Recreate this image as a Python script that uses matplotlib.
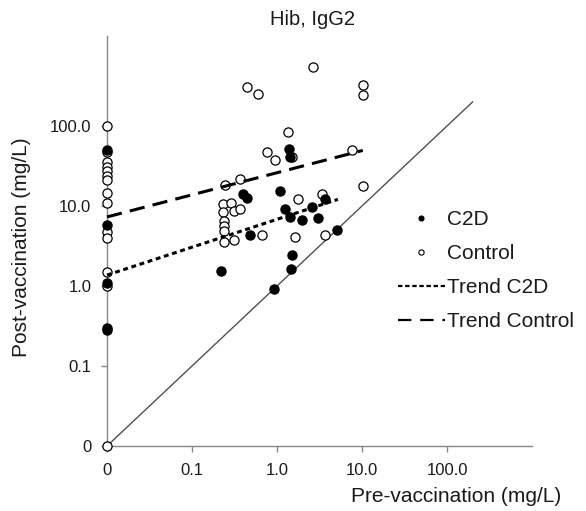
import matplotlib
matplotlib.use("Agg")
import matplotlib.pyplot as plt
from matplotlib.lines import Line2D
import numpy as np

plt.rcParams['font.family'] = ['Liberation Sans', 'DejaVu Sans']

# ---- data (pre-vaccination, post-vaccination), mg/L; 0 is drawn at the axis floor ----
c2d_pre = [0, 0, 0, 0, 0, 0.22, 0.40, 0.44, 0.48, 0.92, 1.08, 1.24, 1.39, 1.42,
           1.42, 1.48, 1.52, 1.95, 2.56, 3.06, 3.7, 5.1]
c2d_post = [50, 5.8, 1.1, 0.30, 0.28, 1.55, 14.1, 12.7, 4.3, 0.92, 15.2, 9.1, 51, 41.5,
            7.2, 1.62, 2.45, 6.7, 9.6, 7.0, 12.4, 5.0]

ctrl_pre = [0, 0, 0, 0, 0, 0, 0, 0, 0, 0, 0, 0, 0, 0,
            0.23, 0.23, 0.235, 0.24, 0.235, 0.235, 0.245,
            0.29, 0.31, 0.37, 0.31, 0.37,
            0.44, 0.60, 0.66, 0.77, 0.95, 1.36, 1.52, 1.63, 1.76,
            2.67, 3.36, 3.67, 7.6, 10.2, 10.2, 10.2]
ctrl_post = [100, 48, 35, 31, 27, 24, 21, 14.5, 11, 4.7, 4.0, 1.5, 1.0, 0,
             10.5, 8.5, 6.5, 5.6, 4.9, 3.5, 18.5,
             11.0, 8.7, 9.1, 3.8, 22,
             307, 249, 4.4, 47, 37.6, 85, 41, 4.1, 12.3,
             542, 14, 4.3, 50, 325, 245, 17.7]

# trend lines (start / end in data units)
trend_c2d_x = [0, 5.2]
trend_c2d_y = [1.37, 12.1]
trend_ctrl_x = [0, 10.2]
trend_ctrl_y = [7.3, 49.5]

identity = [0, 200]

tick_vals = [0.01, 0.1, 1, 10, 100]
tick_labels = ['0', '0.1', '1.0', '10.0', '100.0']

floor = 0.01


def fl(v):
    return np.maximum(np.asarray(v, dtype=float), floor)


fig = plt.figure(figsize=(5.86, 5.11), dpi=100)
ax = fig.add_axes([107 / 586, 1 - 446 / 511, (532 - 107) / 586, (446 - 36) / 511])
ax.set_xscale('log')
ax.set_yscale('log')
ax.set_xlim(0.01, 1000)
ax.set_ylim(0.01, 10 ** 3.125)

# identity line
ax.plot(fl(identity), fl(identity), color='#505050', lw=1.0, zorder=2)

# points
ax.plot(fl(ctrl_pre), fl(ctrl_post), ls='none', marker='o', ms=6.6,
        mfc='white', mec='black', mew=0.9, zorder=3, clip_on=False)
ax.plot(fl(c2d_pre), fl(c2d_post), ls='none', marker='o', ms=6.6,
        mfc='black', mec='black', mew=0.9, zorder=4, clip_on=False)

# trends
ax.plot(fl(trend_c2d_x), fl(trend_c2d_y), color='black', lw=2.2,
        dashes=(1.6, 1.2), zorder=5, clip_on=False)
ax.plot(fl(trend_ctrl_x), fl(trend_ctrl_y), color='black', lw=2.2,
        dashes=(5.0, 2.7), zorder=5, clip_on=False)

for s in ['top', 'right']:
    ax.spines[s].set_visible(False)
for s in ['left', 'bottom']:
    ax.spines[s].set_color('#878787')
    ax.spines[s].set_linewidth(1.0)
    ax.spines[s].set_zorder(1)

ax.set_xticks(tick_vals)
ax.set_xticklabels(tick_labels)
ax.set_yticks(tick_vals)
ax.set_yticklabels(tick_labels)
ax.minorticks_off()
ax.tick_params(axis='both', direction='out', length=4.3, width=1.0,
               color='#878787', labelsize=12, labelcolor='#1a1a1a')
ax.tick_params(axis='x', pad=8)
ax.tick_params(axis='y', pad=7)

fig.text(312 / 586, 1 - 19 / 511, 'Hib, IgG2', ha='center', va='center',
         fontsize=14.5, color='#1a1a1a')
fig.text(456 / 586, 1 - 496 / 511, 'Pre-vaccination (mg/L)', ha='center',
         va='center', fontsize=15, color='#1a1a1a')
fig.text(22 / 586, 1 - 247 / 511, 'Post-vaccination (mg/L)', ha='center',
         va='center', rotation=90, fontsize=15, color='#1a1a1a')

handles = [
    Line2D([], [], ls='none', marker='o', ms=3.6, mfc='black', mec='black', mew=0.8),
    Line2D([], [], ls='none', marker='o', ms=3.8, mfc='white', mec='black', mew=0.8),
    Line2D([], [], color='black', lw=1.6, dashes=(2.0, 1.2)),
    Line2D([], [], color='black', lw=1.6, dashes=(6, 4)),
]
labels = ['C2D', 'Control', 'Trend C2D', 'Trend Control']
fig.legend(handles, labels, loc='upper left',
           bbox_to_anchor=(398 / 586, 1 - 210 / 511), frameon=False,
           fontsize=15, handlelength=2.25, handletextpad=0.1,
           labelspacing=0.72, borderpad=0, borderaxespad=0,
           labelcolor='#1a1a1a')

fig.savefig('out.png', dpi=100)
